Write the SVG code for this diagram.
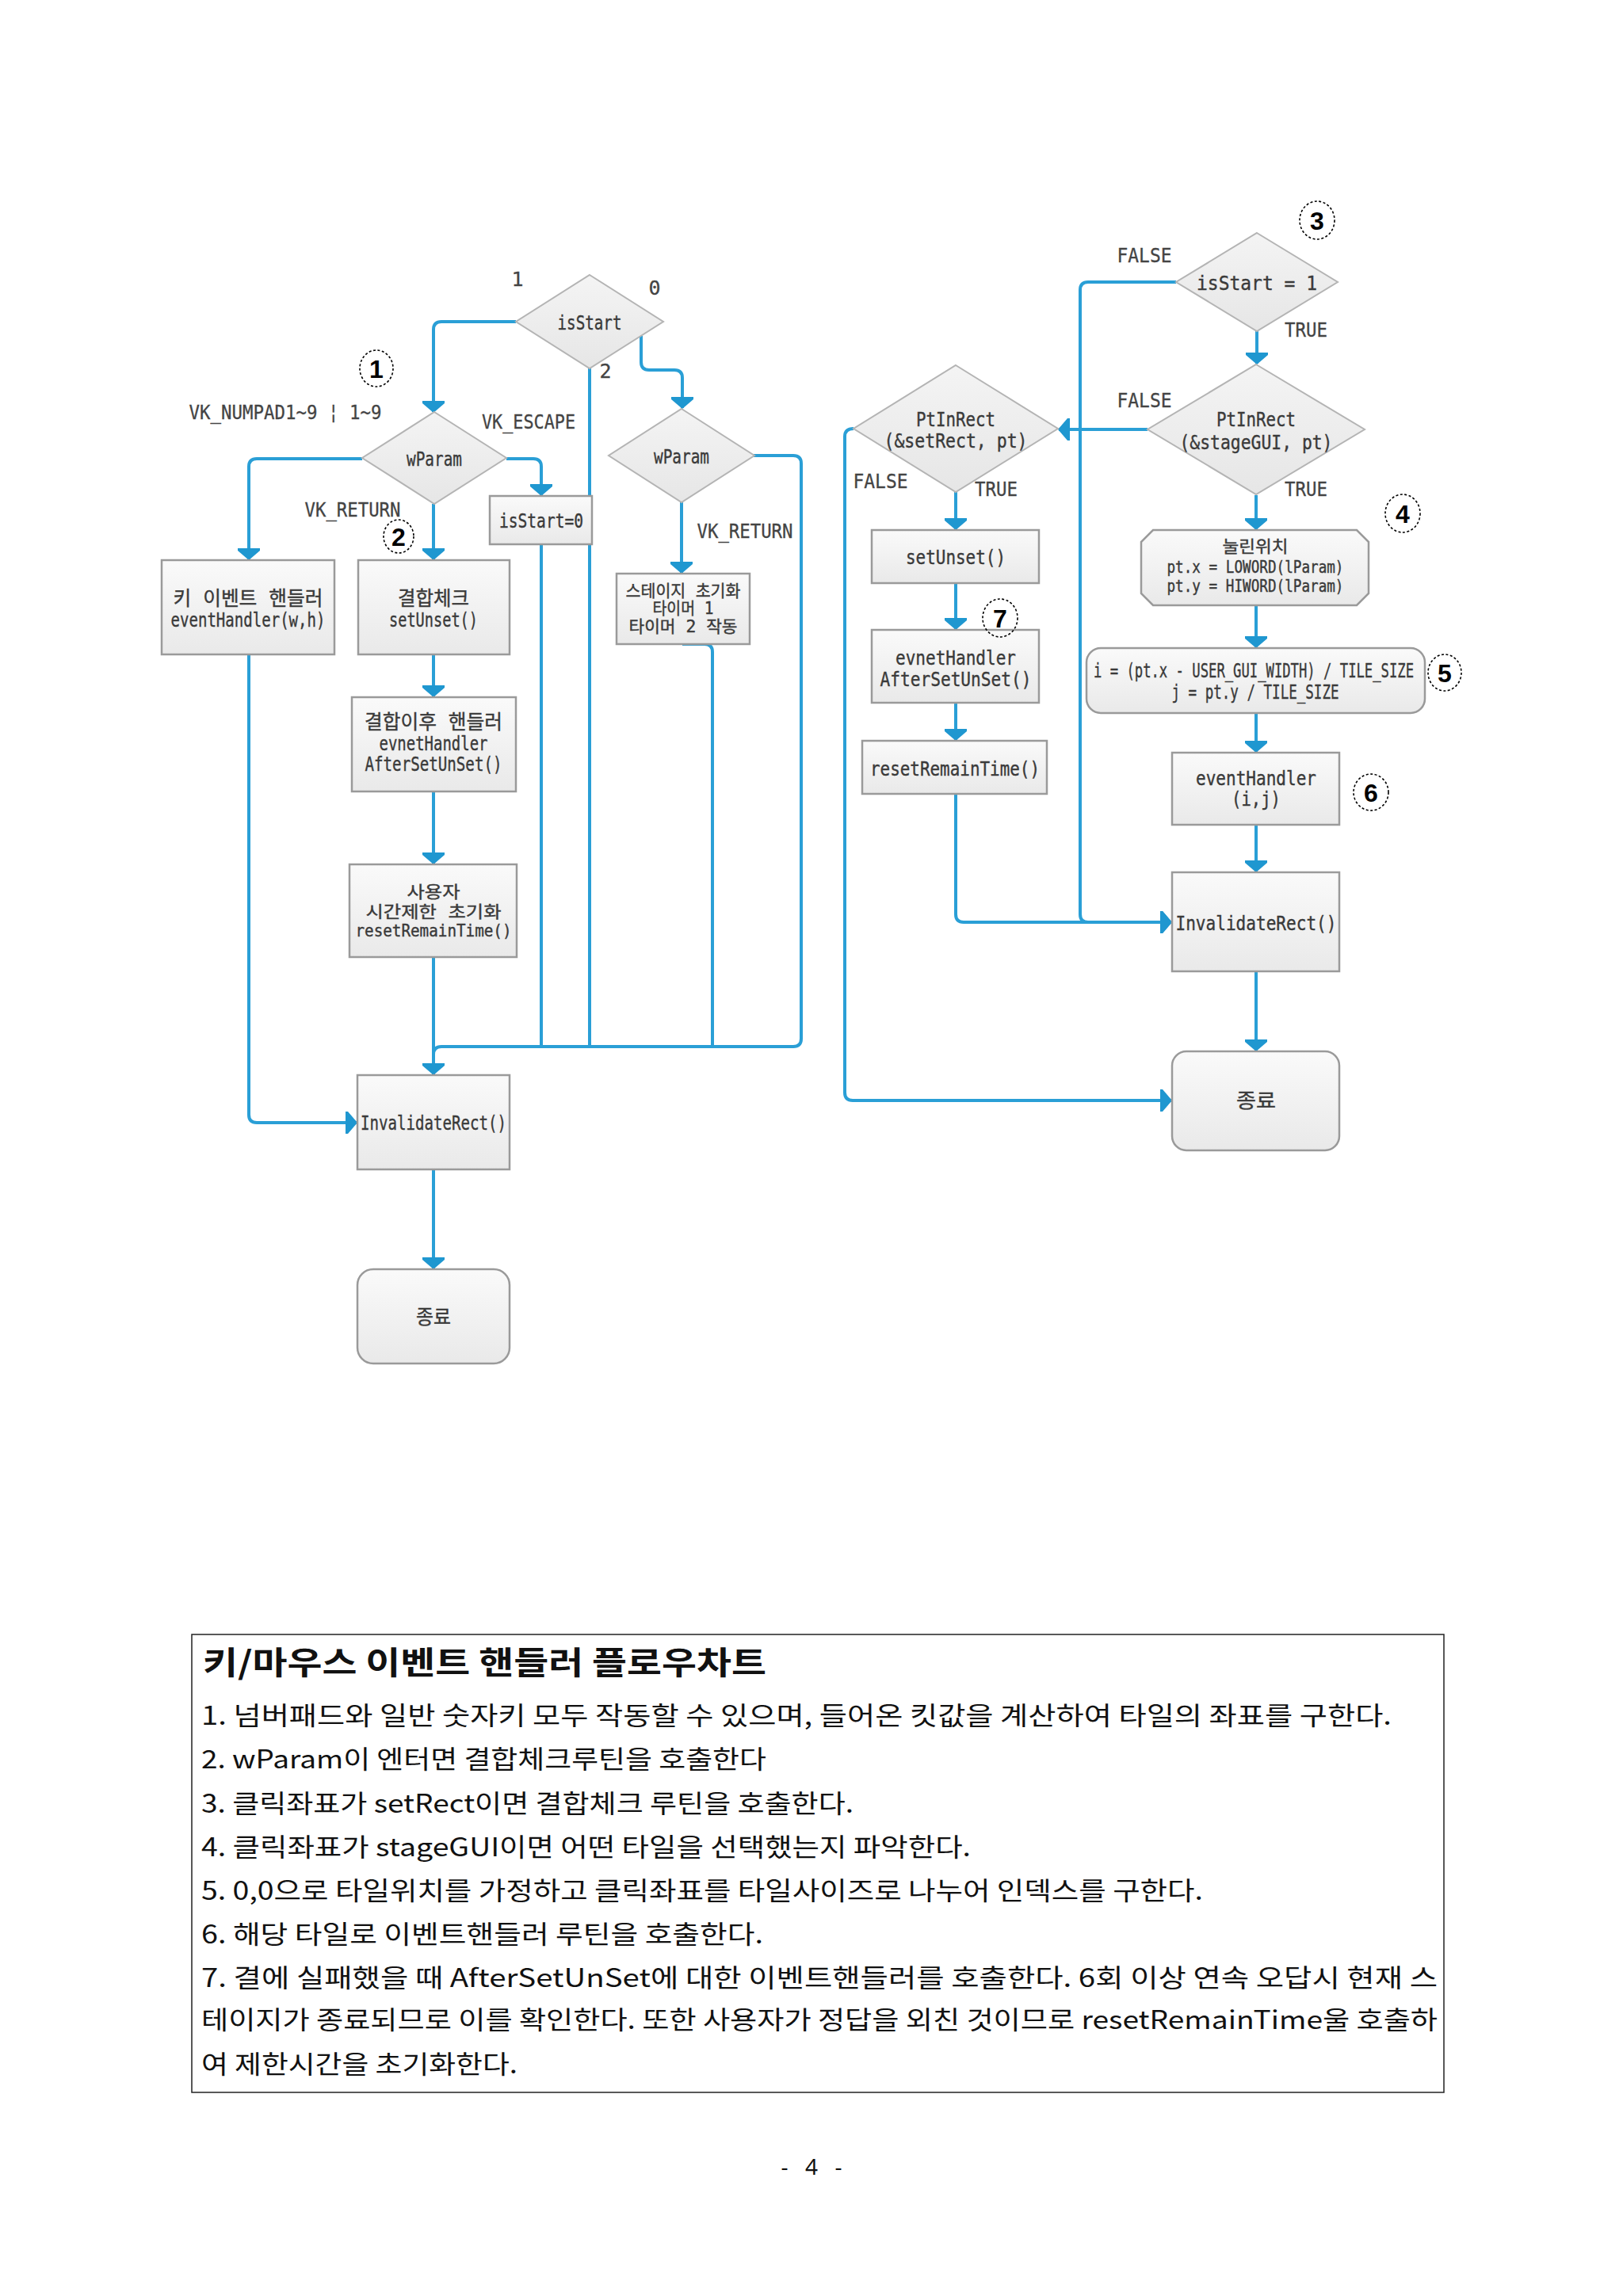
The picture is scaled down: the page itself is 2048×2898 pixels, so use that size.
<svg xmlns="http://www.w3.org/2000/svg" width="2048" height="2898" viewBox="0 0 2048 2898">
<style>
.bg{fill:#ffffff}
.box{fill:url(#gb);stroke:#9a9a9a;stroke-width:2.5}
.dia{fill:url(#gd);stroke:#b4b4b4;stroke-width:2}
.t{font-family:"DejaVu Sans Mono","Noto Sans CJK KR",monospace;font-size:25px;fill:#3a3a3a;stroke:#3a3a3a;stroke-width:0.4;text-anchor:middle;dominant-baseline:central}
.s{font-size:21px}
.lb{font-family:"DejaVu Sans Mono","Noto Sans CJK KR",monospace;font-size:25px;fill:#444;stroke:#444;stroke-width:0.3;text-anchor:middle;dominant-baseline:central}
.ln{fill:none;stroke:#2a9fd6;stroke-width:4;stroke-linejoin:round}
.arr{marker-end:url(#ah)}
.num ellipse{fill:none;stroke:#000;stroke-width:1.6;stroke-dasharray:3 2.5}
.num text{font-family:"Liberation Sans",Arial,sans-serif;font-weight:bold;font-size:32px;fill:#000;text-anchor:middle;dominant-baseline:central}
.body{font-family:"Noto Sans CJK KR","Noto Sans",sans-serif;font-size:32px;fill:#111}
.title{font-family:"Noto Sans CJK KR","Noto Sans",sans-serif;font-size:40px;font-weight:bold;fill:#111}
.pg{font-family:"Noto Sans","Liberation Sans",sans-serif;font-size:28px;fill:#111;text-anchor:middle}
</style>
<defs>
<linearGradient id="gb" x1="0" y1="0" x2="0" y2="1"><stop offset="0" stop-color="#fafafa"/><stop offset="1" stop-color="#e9e9e9"/></linearGradient>
<linearGradient id="gd" x1="0" y1="0" x2="0" y2="1"><stop offset="0" stop-color="#f4f4f4"/><stop offset="1" stop-color="#e6e6e6"/></linearGradient>
<marker id="ah" viewBox="0 0 15 28" markerWidth="15" markerHeight="28" refX="14" refY="14" orient="auto" markerUnits="userSpaceOnUse">
<path d="M0,0 L3,0 L15,14 L3,28 L0,28 Z" fill="#1f97d0"/>
</marker>
</defs>
<rect class="bg" x="0" y="0" width="2048" height="2898"/>

<g id="connectors">
<path class="ln arr" d="M651,406 H557 Q547,406 547,416 V520"/>
<path class="ln arr" d="M809,424 V457 Q809,467 819,467 H851 Q861,467 861,477 V515"/>
<path class="ln" d="M744,465 V1321"/>
<path class="ln arr" d="M457,579 H324 Q314,579 314,589 V706"/>
<path class="ln arr" d="M639,579 H673 Q683,579 683,589 V625"/>
<path class="ln arr" d="M547,636 V706"/>
<path class="ln" d="M683,687 V1321"/>
<path class="ln arr" d="M314,826 V1407 Q314,1417 324,1417 H450"/>
<path class="ln arr" d="M547,826 V879"/>
<path class="ln arr" d="M547,999 V1090"/>
<path class="ln arr" d="M547,1208 V1356"/>
<path class="ln" d="M951,575 H1001 Q1011,575 1011,585 V1311 Q1011,1321 1001,1321 H557 Q547,1321 547,1331"/>
<path class="ln" d="M861,813 H889 Q899,813 899,823 V1321"/>
<path class="ln arr" d="M860,634 V723"/>
<path class="ln arr" d="M547,1476 V1601"/>

<path class="ln arr" d="M1484,356 H1373 Q1363,356 1363,366 V1154 Q1363,1164 1373,1164 H1478"/>
<path class="ln arr" d="M1586,418 V459"/>
<path class="ln arr" d="M1448,542 H1336"/>
<path class="ln arr" d="M1077,541 Q1066,541 1066,551 V1379 Q1066,1389 1076,1389 H1478"/>
<path class="ln arr" d="M1206,621 V668"/>
<path class="ln arr" d="M1206,736 V794"/>
<path class="ln arr" d="M1206,887 V934"/>
<path class="ln arr" d="M1206,1002 V1154 Q1206,1164 1216,1164 H1478"/>
<path class="ln arr" d="M1585,625 V668"/>
<path class="ln arr" d="M1585,764 V817"/>
<path class="ln arr" d="M1585,900 V949"/>
<path class="ln arr" d="M1585,1041 V1100"/>
<path class="ln arr" d="M1585,1226 V1326"/>
</g>

<g id="labels">
<text class="lb" x="653" y="352">1</text>
<text class="lb" x="826" y="363">0</text>
<text class="lb" x="764" y="468">2</text>
<text class="lb" x="360" y="520" textLength="243" lengthAdjust="spacingAndGlyphs">VK_NUMPAD1~9 ¦ 1~9</text>
<text class="lb" x="667" y="532" textLength="118" lengthAdjust="spacingAndGlyphs">VK_ESCAPE</text>
<text class="lb" x="445" y="643" textLength="121" lengthAdjust="spacingAndGlyphs">VK_RETURN</text>
<text class="lb" x="940" y="670" textLength="121" lengthAdjust="spacingAndGlyphs">VK_RETURN</text>
<text class="lb" x="1444" y="322" textLength="69" lengthAdjust="spacingAndGlyphs">FALSE</text>
<text class="lb" x="1648" y="416" textLength="54" lengthAdjust="spacingAndGlyphs">TRUE</text>
<text class="lb" x="1444" y="505" textLength="69" lengthAdjust="spacingAndGlyphs">FALSE</text>
<text class="lb" x="1648" y="617" textLength="54" lengthAdjust="spacingAndGlyphs">TRUE</text>
<text class="lb" x="1111" y="607" textLength="69" lengthAdjust="spacingAndGlyphs">FALSE</text>
<text class="lb" x="1257" y="617" textLength="54" lengthAdjust="spacingAndGlyphs">TRUE</text>
</g>

<g id="n-isStart"><polygon class="dia" points="744,347 837,406 744,465 651,406"/><text class="t" x="744" y="407" textLength="81" lengthAdjust="spacingAndGlyphs">isStart</text></g>
<g id="n-wParamL"><polygon class="dia" points="548,520 639,578 548,636 457,578"/><text class="t" x="548" y="579" textLength="70" lengthAdjust="spacingAndGlyphs">wParam</text></g>
<g id="n-wParamR"><polygon class="dia" points="860,516 952,575 860,634 768,575"/><text class="t" x="860" y="576" textLength="70" lengthAdjust="spacingAndGlyphs">wParam</text></g>
<g id="n-isStart0"><rect class="box" x="618" y="626" width="129" height="61"/><text class="t" x="683" y="657" textLength="106" lengthAdjust="spacingAndGlyphs">isStart=0</text></g>
<g id="n-keyHandler"><rect class="box" x="204" y="707" width="218" height="119"/><text class="t" x="313" y="755" textLength="189" lengthAdjust="spacingAndGlyphs">키 이벤트 핸들러</text><text class="t" x="313" y="782" textLength="195" lengthAdjust="spacingAndGlyphs">eventHandler(w,h)</text></g>
<g id="n-setUnsetL"><rect class="box" x="452" y="707" width="191" height="119"/><text class="t" x="547" y="755" textLength="90" lengthAdjust="spacingAndGlyphs">결합체크</text><text class="t" x="547" y="782" textLength="112" lengthAdjust="spacingAndGlyphs">setUnset()</text></g>
<g id="n-stageInit"><rect class="box" x="778" y="724" width="168" height="89"/><text class="t s" x="862" y="746" textLength="145" lengthAdjust="spacingAndGlyphs">스테이지 초기화</text><text class="t s" x="862" y="768" textLength="77" lengthAdjust="spacingAndGlyphs">타이머 1</text><text class="t s" x="862" y="791" textLength="137" lengthAdjust="spacingAndGlyphs">타이머 2 작동</text></g>
<g id="n-afterL"><rect class="box" x="444" y="880" width="207" height="119"/><text class="t" x="547" y="911" textLength="174" lengthAdjust="spacingAndGlyphs">결합이후 핸들러</text><text class="t" x="547" y="938" textLength="137" lengthAdjust="spacingAndGlyphs">evnetHandler</text><text class="t" x="547" y="964" textLength="173" lengthAdjust="spacingAndGlyphs">AfterSetUnSet()</text></g>
<g id="n-resetL"><rect class="box" x="441" y="1091" width="211" height="117"/><text class="t s" x="547" y="1126" textLength="67" lengthAdjust="spacingAndGlyphs">사용자</text><text class="t s" x="547" y="1151" textLength="171" lengthAdjust="spacingAndGlyphs">시간제한 초기화</text><text class="t s" x="547" y="1175" textLength="197" lengthAdjust="spacingAndGlyphs">resetRemainTime()</text></g>
<g id="n-invalidL"><rect class="box" x="451" y="1357" width="192" height="119"/><text class="t" x="547" y="1417" textLength="184" lengthAdjust="spacingAndGlyphs">InvalidateRect()</text></g>
<g id="n-endL"><rect class="box" x="451" y="1602" width="192" height="119" rx="20"/><text class="t" x="547" y="1662" textLength="44" lengthAdjust="spacingAndGlyphs">종료</text></g>

<g id="n-isStart1"><polygon class="dia" points="1586,294 1688,356 1586,418 1484,356"/><text class="t" x="1586" y="357" textLength="152" lengthAdjust="spacingAndGlyphs">isStart = 1</text></g>
<g id="n-stageGUI"><polygon class="dia" points="1585,460 1722,542 1585,624 1448,542"/><text class="t" x="1585" y="529" textLength="100" lengthAdjust="spacingAndGlyphs">PtInRect</text><text class="t" x="1585" y="558" textLength="193" lengthAdjust="spacingAndGlyphs">(&amp;stageGUI, pt)</text></g>
<g id="n-setRect"><polygon class="dia" points="1206,461 1335,541 1206,621 1077,541"/><text class="t" x="1206" y="529" textLength="100" lengthAdjust="spacingAndGlyphs">PtInRect</text><text class="t" x="1206" y="556" textLength="181" lengthAdjust="spacingAndGlyphs">(&amp;setRect, pt)</text></g>
<g id="n-setUnsetR"><rect class="box" x="1100" y="669" width="211" height="67"/><text class="t" x="1206" y="703" textLength="126" lengthAdjust="spacingAndGlyphs">setUnset()</text></g>
<g id="n-afterR"><rect class="box" x="1100" y="795" width="211" height="92"/><text class="t" x="1206" y="830" textLength="152" lengthAdjust="spacingAndGlyphs">evnetHandler</text><text class="t" x="1206" y="857" textLength="191" lengthAdjust="spacingAndGlyphs">AfterSetUnSet()</text></g>
<g id="n-resetR"><rect class="box" x="1088" y="935" width="233" height="67"/><text class="t" x="1205" y="970" textLength="214" lengthAdjust="spacingAndGlyphs">resetRemainTime()</text></g>
<g id="n-pos"><path class="box" d="M1455,669 H1712 L1727,684 V749 L1712,764 H1455 L1440,749 V684 Z"/><text class="t s" x="1584" y="690" textLength="83" lengthAdjust="spacingAndGlyphs">눌린위치</text><text class="t s" x="1584" y="716" textLength="223" lengthAdjust="spacingAndGlyphs">pt.x = LOWORD(lParam)</text><text class="t s" x="1584" y="740" textLength="223" lengthAdjust="spacingAndGlyphs">pt.y = HIWORD(lParam)</text></g>
<g id="n-index"><rect class="box" x="1371" y="818" width="427" height="82" rx="18"/><text class="t" x="1582" y="846" textLength="404" lengthAdjust="spacingAndGlyphs">i = (pt.x - USER_GUI_WIDTH) / TILE_SIZE</text><text class="t" x="1584" y="873" textLength="211" lengthAdjust="spacingAndGlyphs">j = pt.y / TILE_SIZE</text></g>
<g id="n-eventHandler"><rect class="box" x="1479" y="950" width="211" height="91"/><text class="t" x="1585" y="982" textLength="152" lengthAdjust="spacingAndGlyphs">eventHandler</text><text class="t" x="1585" y="1008" textLength="62" lengthAdjust="spacingAndGlyphs">(i,j)</text></g>
<g id="n-invalidR"><rect class="box" x="1479" y="1101" width="211" height="125"/><text class="t" x="1585" y="1165" textLength="203" lengthAdjust="spacingAndGlyphs">InvalidateRect()</text></g>
<g id="n-endR"><rect class="box" x="1479" y="1327" width="211" height="125" rx="18"/><text class="t" x="1585" y="1389" textLength="50" lengthAdjust="spacingAndGlyphs">종료</text></g>

<g id="markers-num">
<g class="num"><ellipse cx="475" cy="465" rx="21" ry="23"/><text x="475" y="466">1</text></g>
<g class="num"><ellipse cx="503" cy="677" rx="19" ry="21"/><text x="503" y="678">2</text></g>
<g class="num"><ellipse cx="1662" cy="278" rx="22" ry="24"/><text x="1662" y="279">3</text></g>
<g class="num"><ellipse cx="1770" cy="648" rx="22" ry="24"/><text x="1770" y="649">4</text></g>
<g class="num"><ellipse cx="1823" cy="849" rx="21" ry="23"/><text x="1823" y="850">5</text></g>
<g class="num"><ellipse cx="1730" cy="1000" rx="22" ry="23"/><text x="1730" y="1001">6</text></g>
<g class="num"><ellipse cx="1262" cy="780" rx="22" ry="24"/><text x="1262" y="781">7</text></g>
</g>

<g id="caption">
<rect x="242" y="2063" width="1580" height="578" fill="none" stroke="#222" stroke-width="1.5"/>
<text class="title" x="256" y="2113" textLength="711" lengthAdjust="spacingAndGlyphs">키/마우스 이벤트 핸들러 플로우차트</text>
<text class="body" x="254" y="2177" textLength="1502" lengthAdjust="spacingAndGlyphs">1. 넘버패드와 일반 숫자키 모두 작동할 수 있으며, 들어온 킷값을 계산하여 타일의 좌표를 구한다.</text>
<text class="body" x="254" y="2232" textLength="713" lengthAdjust="spacingAndGlyphs">2. wParam이 엔터면 결합체크루틴을 호출한다</text>
<text class="body" x="254" y="2288" textLength="823" lengthAdjust="spacingAndGlyphs">3. 클릭좌표가 setRect이면 결합체크 루틴을 호출한다.</text>
<text class="body" x="254" y="2343" textLength="971" lengthAdjust="spacingAndGlyphs">4. 클릭좌표가 stageGUI이면 어떤  타일을 선택했는지 파악한다.</text>
<text class="body" x="254" y="2398" textLength="1264" lengthAdjust="spacingAndGlyphs">5. 0,0으로 타일위치를 가정하고 클릭좌표를 타일사이즈로 나누어 인덱스를 구한다.</text>
<text class="body" x="254" y="2453" textLength="709" lengthAdjust="spacingAndGlyphs">6. 해당 타일로 이벤트핸들러 루틴을 호출한다.</text>
<text class="body" x="254" y="2508" textLength="1560" lengthAdjust="spacingAndGlyphs">7. 결에 실패했을 때 AfterSetUnSet에 대한 이벤트핸들러를 호출한다. 6회 이상 연속 오답시 현재 스</text>
<text class="body" x="254" y="2561" textLength="1560" lengthAdjust="spacingAndGlyphs">테이지가 종료되므로 이를 확인한다. 또한 사용자가 정답을 외친 것이므로 resetRemainTime울 호출하</text>
<text class="body" x="254" y="2617" textLength="399" lengthAdjust="spacingAndGlyphs">여 제한시간을 초기화한다.</text>
</g>
<text class="pg" x="1024" y="2745" textLength="77" lengthAdjust="spacing">- 4 -</text>
</svg>
